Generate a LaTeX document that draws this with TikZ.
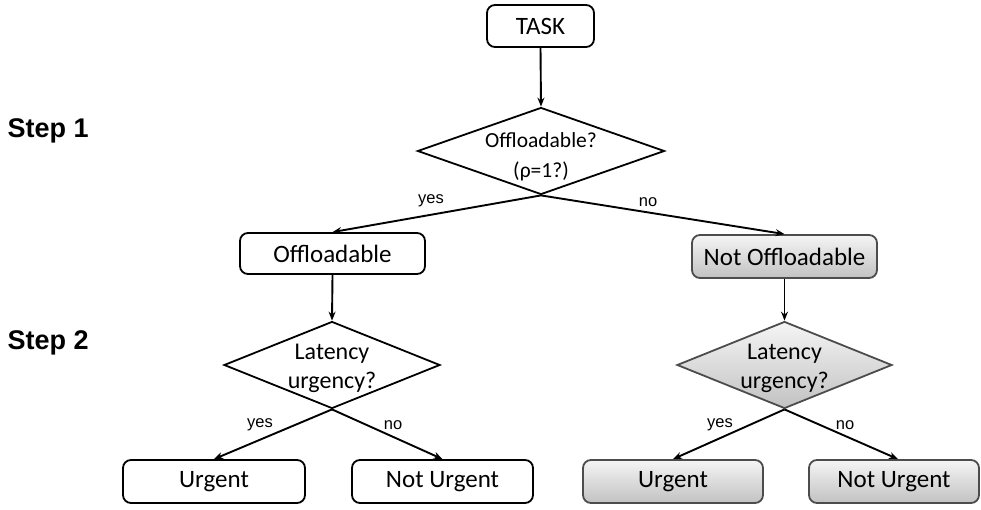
\documentclass[tikz,border=0pt]{standalone}
\usepackage{fontspec}
\setmainfont{Carlito}
\newfontfamily\arialfont{Liberation Sans}
\usetikzlibrary{shapes.geometric,arrows.meta}

\tikzset{
  box/.style={draw=black, line width=1.8pt, rounded corners=8pt, inner sep=0pt,
    font=\fontsize{25}{28}\selectfont},
  greybox/.style={box, draw=black!70, top color=black!4, bottom color=black!24},
  decision/.style={draw=black, line width=1.8pt, diamond, inner sep=0pt},
  greydecision/.style={decision, draw=black!70, top color=black!4, bottom color=black!24},
  dtext/.style={align=center, font=\fontsize{24}{29}\selectfont},
  flow/.style={line width=1.9pt, -{Stealth[length=9pt,width=7pt,inset=3pt]}},
  answer/.style={font=\arialfont\fontsize{16.5}{18}\selectfont},
  steplabel/.style={font=\arialfont\bfseries\fontsize{27}{30}\selectfont, anchor=west},
}

\begin{document}
\begin{tikzpicture}[x=1pt, y=-1pt]
  \useasboundingbox (0,0) rectangle (981,510);

  % step captions
  \node[steplabel] (s1) at (4,131) {Step 1};
  \node[steplabel] (s2) at (4,343) {Step 2};

  % first stage
  \node[box, minimum width=107pt, minimum height=42pt] (task) at (540.5,26) {TASK};
  \node[decision, minimum width=247pt, minimum height=87pt] (d1) at (541,151) {};
  \node[dtext, font=\fontsize{21.5}{30}\selectfont] (d1t) at (541,157) {Offloadable?\\(ρ=1?)};

  \node[box, minimum width=185pt, minimum height=41pt] (off) at (332.5,253.5) {Offloadable};
  \node[greybox, minimum width=185pt, minimum height=43pt] (noff) at (784.5,256.5) {Not Offloadable};

  % second stage, left branch
  \node[decision, minimum width=216pt, minimum height=87pt] (d2l) at (332,365) {};
  \node[dtext] (d2lt) at (332,368) {Latency\\urgency?};
  \node[box, minimum width=182pt, minimum height=43pt] (ul) at (214,481.5) {Urgent};
  \node[box, minimum width=181pt, minimum height=43pt] (nul) at (442.5,481.5) {Not Urgent};

  % second stage, right branch
  \node[greydecision, minimum width=215pt, minimum height=87pt] (d2r) at (784.5,365) {};
  \node[dtext] (d2rt) at (784.5,368) {Latency\\urgency?};
  \node[greybox, minimum width=180pt, minimum height=43pt] (ur) at (673,481.5) {Urgent};
  \node[greybox, minimum width=170pt, minimum height=43pt] (nur) at (894,481.5) {Not Urgent};

  % connectors
  \draw[flow] (task.south) -- (d1.north);
  \draw[flow] (d1.south) -- (off.north);
  \draw[flow] (d1.south) -- (noff.north);
  \draw[flow] (off.south) -- (d2l.north);
  \draw[flow] (noff.south) -- (d2r.north);
  \draw[flow] (d2l.south) -- (ul.north);
  \draw[flow] (d2l.south) -- (nul.north);
  \draw[flow] (d2r.south) -- (ur.north);
  \draw[flow] (d2r.south) -- ([xshift=4pt]nur.north);

  % branch answers
  \node[answer] (y1) at (431,201) {yes};
  \node[answer] (n1) at (648,202) {no};
  \node[answer] (y2) at (260,425) {yes};
  \node[answer] (n2) at (393,425) {no};
  \node[answer] (y3) at (720,425) {yes};
  \node[answer] (n3) at (845,425) {no};
\end{tikzpicture}
\end{document}
